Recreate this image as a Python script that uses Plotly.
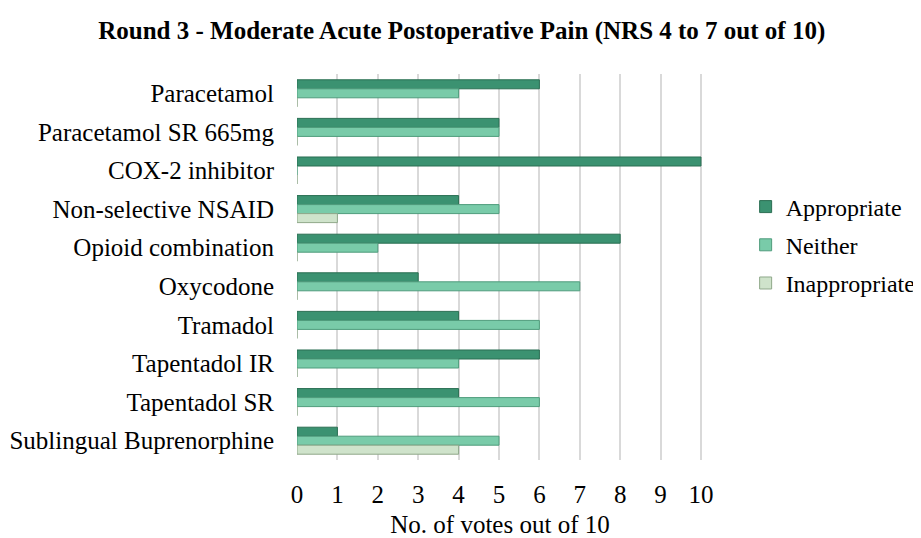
import plotly.graph_objects as go

categories = ["Paracetamol", "Paracetamol SR 665mg", "COX-2 inhibitor", "Non-selective NSAID",
              "Opioid combination", "Oxycodone", "Tramadol", "Tapentadol IR", "Tapentadol SR",
              "Sublingual Buprenorphine"]
appropriate = [6, 5, 10, 4, 8, 3, 4, 6, 4, 1]
neither = [4, 5, 0, 5, 2, 7, 6, 4, 6, 5]
inappropriate = [0, 0, 0, 1, 0, 0, 0, 0, 0, 4]
tick_vals = list(range(0, 11))

font_family = "Liberation Serif"

fig = go.Figure()
series = [("Appropriate", appropriate, "#3b9271", "#2a6e52"),
          ("Neither", neither, "#79cba9", "#4f9c7c"),
          ("Inappropriate", inappropriate, "#cfe3cb", "#8fa88a")]
for name, vals, color, edge in series:
    fig.add_trace(go.Bar(
        y=categories, x=vals, name=name, orientation="h", legendgroup=name,
        marker=dict(color=color, line=dict(color=edge, width=1)),
    ))

# page has an 8px body margin, so the figure is 913x530 and offsets are compensated
fig.update_layout(
    width=913, height=530,
    barmode="group", bargap=0.3, bargroupgap=0,
    plot_bgcolor="white", paper_bgcolor="white",
    margin=dict(l=289, r=218, t=66, b=78, autoexpand=False),
    title=dict(text="<b>Round 3 - Moderate Acute Postoperative Pain (NRS 4 to 7 out of 10)</b>",
               x=0.497, xanchor="center", y=0.958, yanchor="middle",
               xref="container", yref="container",
               font=dict(family=font_family, size=25, color="black")),
    font=dict(family=font_family, size=25, color="black"),
    legend=dict(x=1.105, y=0.557, xanchor="left", yanchor="middle",
                font=dict(family=font_family, size=24, color="black"),
                traceorder="grouped", itemwidth=30, tracegroupgap=4),
    showlegend=True,
)
fig.update_xaxes(range=[0, 10.05], tickvals=tick_vals, showgrid=True, gridcolor="#d9d9d9",
                 gridwidth=1.5, zeroline=False, showline=False, ticks="",
                 ticklabelstandoff=17, automargin=False,
                 title=dict(text="No. of votes out of 10", standoff=9,
                            font=dict(family=font_family, size=25)),
                 tickfont=dict(family=font_family, size=25))
fig.update_yaxes(autorange="reversed", showgrid=False, showline=False, ticks="",
                 ticklabelstandoff=22, automargin=False,
                 tickfont=dict(family=font_family, size=25))

fig.write_html("out.html")
